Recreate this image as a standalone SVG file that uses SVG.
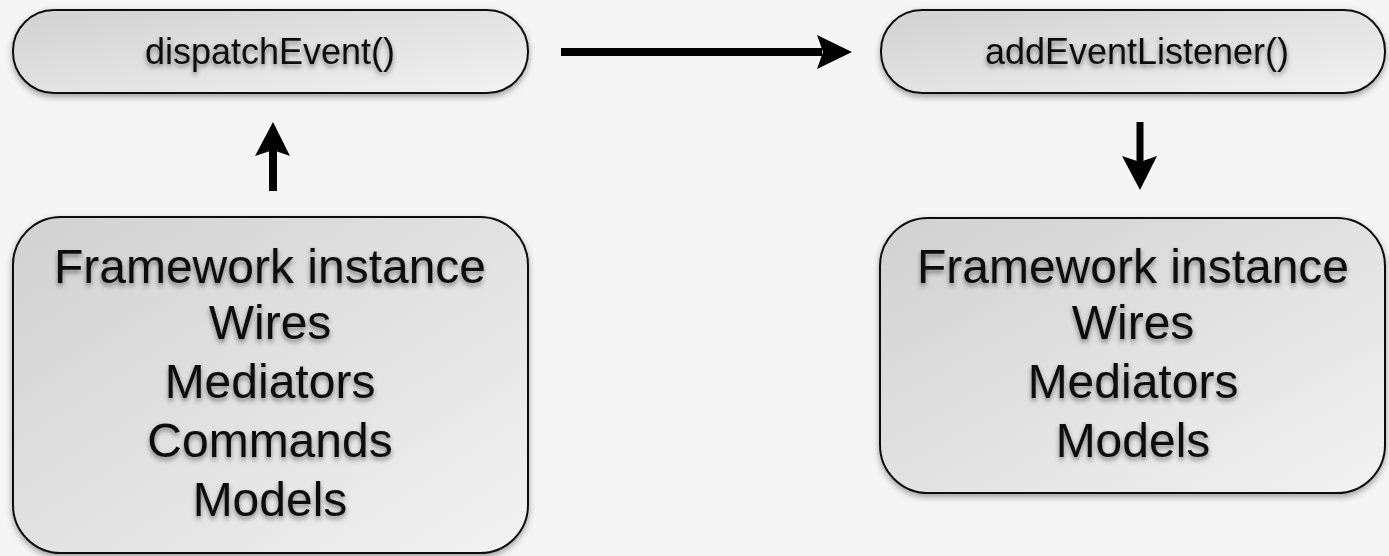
<svg xmlns="http://www.w3.org/2000/svg" width="1389" height="556" viewBox="0 0 1389 556">
<style>
.box{fill:url(#g);stroke:#111;stroke-width:2;filter:url(#bs)}
.t{font-family:"Liberation Sans",Arial,sans-serif;fill:#111;text-anchor:middle;filter:url(#ts)}
.s{font-size:36px}
.l{font-size:48px}
.c{stroke:#000;fill:none}
</style>
<defs>
<linearGradient id="g" x1="0" y1="0" x2="1" y2="1">
<stop offset="0" stop-color="#d2d1d1"/>
<stop offset="1" stop-color="#f2f2f2"/>
</linearGradient>
<filter id="bs" x="-10%" y="-10%" width="120%" height="130%">
<feDropShadow dx="0" dy="3" stdDeviation="3" flood-color="#000" flood-opacity="0.35"/>
</filter>
<filter id="ts" x="-10%" y="-20%" width="120%" height="160%">
<feDropShadow dx="0" dy="3" stdDeviation="2.5" flood-color="#000" flood-opacity="0.45"/>
</filter>
</defs>
<rect width="1389" height="556" fill="#f5f5f5"/>
<g id="n-dispatch">
<rect class="box" x="13" y="10" width="515" height="83" rx="41"/>
<text class="t s" x="270" y="64">dispatchEvent()</text>
</g>
<g id="n-add">
<rect class="box" x="881" y="10" width="504" height="83" rx="41"/>
<text class="t s" x="1137" y="64">addEventListener()</text>
</g>
<g id="n-left">
<rect class="box" x="13" y="217" width="515" height="336" rx="48"/>
<text class="t l" x="270" y="283">Framework instance</text>
<text class="t l" x="270" y="339">Wires</text>
<text class="t l" x="270" y="398">Mediators</text>
<text class="t l" x="270" y="457">Commands</text>
<text class="t l" x="270" y="516">Models</text>
</g>
<g id="n-right">
<rect class="box" x="880" y="218" width="505" height="275" rx="48"/>
<text class="t l" x="1133" y="283">Framework instance</text>
<text class="t l" x="1133" y="339">Wires</text>
<text class="t l" x="1133" y="398">Mediators</text>
<text class="t l" x="1133" y="457">Models</text>
</g>
<g id="connectors">
<line class="c" x1="561" y1="52" x2="822" y2="52" stroke-width="8"/>
<polygon points="817,35 852,52 817,69 823,52"/>
<line class="c" x1="273" y1="191" x2="273" y2="148" stroke-width="8"/>
<polygon points="273,122 290,156 273,150 255,156"/>
<line class="c" x1="1140" y1="122" x2="1140" y2="165" stroke-width="7"/>
<polygon points="1122,156 1140,162 1157,156 1140,190"/>
</g>
</svg>
